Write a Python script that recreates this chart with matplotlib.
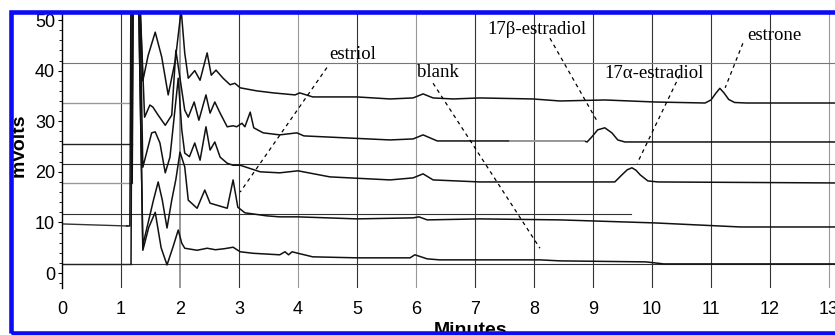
import matplotlib
matplotlib.use('Agg')
import matplotlib.pyplot as plt
from matplotlib.patches import Rectangle
import numpy as np

# chromatogram traces (minutes, mV), top to bottom
t1 = [0, 1.19, 1.2, 1.3, 1.37, 1.46, 1.58, 1.69, 1.8, 1.92, 2.02, 2.08, 2.14, 2.25, 2.34, 2.46, 2.53, 2.61,
      2.73, 2.85, 2.93, 3.02, 3.3, 3.58, 3.95, 4.03, 4.25, 5.0, 5.56, 5.95, 6.12, 6.29, 6.63, 7.08, 7.98,
      8.44, 9.2, 10.05, 10.9, 11.0, 11.08, 11.15, 11.22, 11.3, 11.4, 11.6, 13.1]
v1 = [33.6, 33.6, 60, 60, 38.0, 43.0, 47.6, 42.7, 35.2, 42.0, 52.0, 43.5, 38.5, 40.0, 38.1, 43.5, 39.1, 40.1,
      38.5, 37.2, 37.5, 36.6, 36.0, 35.6, 35.2, 35.6, 34.8, 34.8, 34.4, 34.6, 35.4, 34.6, 34.4, 34.6, 34.4,
      34.0, 34.2, 33.8, 33.6, 34.2, 35.5, 36.5, 35.6, 34.3, 33.7, 33.6, 33.6]

t2 = [0, 1.19, 1.2, 1.3, 1.4, 1.49, 1.54, 1.63, 1.75, 1.86, 1.93, 2.08, 2.14, 2.24, 2.32, 2.44, 2.51, 2.59,
      2.68, 2.8, 2.9, 2.96, 3.05, 3.1, 3.19, 3.25, 3.41, 3.69, 3.98, 4.1, 4.83, 5.56, 5.95, 6.12, 6.36, 7.59,
      8.85, 8.9, 8.98, 9.08, 9.2, 9.32, 9.42, 9.54, 11.75, 13.1]
v2 = [25.5, 25.5, 60, 60, 30.8, 33.2, 32.8, 31.2, 29.2, 31.2, 44.0, 32.2, 30.8, 33.8, 30.2, 35.2, 31.6, 33.8,
      31.6, 28.9, 29.1, 28.9, 29.6, 28.9, 31.8, 28.7, 27.7, 27.3, 27.7, 27.1, 26.7, 26.3, 26.5, 27.3, 26.1, 26.1,
      26.1, 25.9, 26.9, 28.3, 28.7, 27.7, 26.3, 25.9, 25.9, 25.9]

t3 = [0, 1.19, 1.21, 1.31, 1.37, 1.52, 1.58, 1.66, 1.75, 1.83, 1.97, 2.03, 2.08, 2.16, 2.25, 2.34, 2.44, 2.51,
      2.59, 2.68, 2.8, 2.9, 3.02, 3.36, 3.69, 4.0, 4.54, 5.56, 5.95, 6.12, 6.29, 7.08, 8.44, 9.03, 9.37, 9.49,
      9.58, 9.66, 9.73, 9.8, 9.93, 10.1, 13.1]
v3 = [17.8, 17.8, 60, 60, 20.9, 27.7, 27.9, 25.7, 19.8, 22.9, 38.5, 28.3, 23.7, 23.0, 25.7, 22.3, 28.9, 24.3,
      25.9, 22.9, 21.7, 21.3, 21.3, 20.0, 19.8, 20.2, 19.0, 18.4, 18.8, 19.6, 18.4, 18.0, 18.0, 18.0, 18.0, 19.4,
      20.4, 20.8, 20.3, 19.4, 18.2, 18.0, 17.8]

t4 = [0, 1.1, 1.15, 1.17, 1.29, 1.37, 1.55, 1.63, 1.7, 1.78, 1.86, 1.93, 2.0, 2.08, 2.14, 2.29, 2.42, 2.51,
      2.8, 2.9, 2.98, 3.1, 3.47, 3.69, 4.0, 5.0, 5.95, 6.05, 6.19, 7.08, 8.44, 10.05, 11.5, 13.1]
v4 = [9.7, 9.3, 9.3, 60, 60, 5.5, 14.4, 18.0, 14.4, 8.9, 14.4, 18.5, 23.9, 21.0, 14.4, 12.8, 16.4, 13.8,
      12.8, 18.4, 13.0, 11.9, 11.3, 11.1, 11.1, 10.7, 10.9, 11.1, 10.5, 10.7, 10.5, 9.9, 9.1, 9.1]

t5 = [0, 1.17, 1.19, 1.29, 1.37, 1.47, 1.58, 1.68, 1.78, 1.88, 1.97, 2.03, 2.08, 2.29, 2.46, 2.6, 2.75, 2.9,
      3.02, 3.24, 3.69, 3.78, 3.84, 3.9, 4.0, 4.25, 5.0, 5.9, 5.98, 6.19, 6.4, 8.1, 8.44, 9.9, 10.2, 13.1]
v5 = [1.8, 1.8, 60, 60, 4.5, 9.0, 12.0, 5.0, 1.6, 5.1, 8.5, 5.9, 4.9, 4.5, 4.9, 4.6, 4.8, 5.1,
      4.2, 3.9, 3.6, 4.2, 3.6, 4.2, 3.9, 3.2, 3.0, 3.0, 3.6, 2.8, 2.6, 2.6, 2.4, 2.2, 1.8, 1.8]

traces = [(t1, v1), (t2, v2), (t3, v3), (t4, v4), (t5, v5)]
lead_colors = ['#999999', '#222222', '#999999', '#333333', '#222222']

# peak labels and their dashed leader lines
labels = ['estriol', 'blank', '17β-estradiol', '17α-estradiol', 'estrone']
label_x = [4.92, 6.37, 8.05, 10.03, 12.08]
label_y = [43.1, 39.7, 48.2, 39.5, 47.0]
lead_x = [(4.49, 3.02), (6.29, 8.1), (8.27, 9.08), (10.47, 9.75), (11.54, 11.24)]
lead_y = [(40.6, 16.0), (37.5, 4.9), (46.4, 29.8), (39.1, 21.7), (45.4, 36.6)]

# horizontal grid levels (mV) and how far they run (minutes)
hgrid_y = [41.5, 21.5, 11.66, 1.78]
hgrid_end = [13.1, 13.1, 9.65, 13.1]
hgrid_col = ['#777777', '#333333', '#333333', '#333333']

xticks = list(range(0, 14))
yticks = [0, 10, 20, 30, 40, 50]

W, H = 835, 335
fig = plt.figure(figsize=(W / 100, H / 100), dpi=100)
ax = fig.add_axes([62 / W, 1 - 288 / H, (W - 62) / W, (288 - 14) / H])
ax.set_xlim(0, (W - 62) / 59)
ax.set_ylim(-2.96, 51.19)

for x in xticks[1:]:
    c = '#999999' if x in (2, 4, 6, 13) else '#333333'
    lw = 1.4 if x == 2 else 0.8
    ax.axvline(x, color=c, lw=lw, zorder=1)

for y, e, c in zip(hgrid_y, hgrid_end, hgrid_col):
    ax.plot([0, e], [y, y], color=c, lw=0.8, zorder=1)

for (t, v), lc in zip(traces, lead_colors):
    t = np.array(t)
    v = np.array(v)
    ax.plot(t[:2], v[:2], color=lc, lw=1.0, zorder=2)
    ax.plot(t[1:], v[1:], color='#111111', lw=1.1, zorder=3)

# light grey stretch on the 17beta trace
t2a = np.array(t2)
v2a = np.array(v2)
m = (t2a >= 7.59) & (t2a <= 8.85)
ax.plot(t2a[m], v2a[m], color='#aaaaaa', lw=1.2, zorder=4)

for lab, lx, ly, sx, sy in zip(labels, label_x, label_y, lead_x, lead_y):
    ax.text(lx, ly, lab, ha='center', va='center', fontsize=13.5,
            family=['Liberation Serif', 'DejaVu Serif'], zorder=5)
    ax.plot(sx, sy, color='black', lw=0.9, ls=(0, (3, 3)), zorder=5)

ax.set_xticks(xticks)
ax.set_yticks(yticks)
ax.set_yticks(np.arange(-2, 51, 2), minor=True)
ax.tick_params(axis='x', length=0, pad=9, labelsize=13)
ax.tick_params(axis='y', which='major', length=3, pad=2, labelsize=13)
ax.tick_params(axis='y', which='minor', length=2)
for lab in ax.get_xticklabels() + ax.get_yticklabels():
    lab.set_family('Liberation Sans')
for s in ['top', 'right', 'bottom']:
    ax.spines[s].set_visible(False)
ax.spines['left'].set_linewidth(1.0)

fig.text(19 / W, 1 - 145 / H, 'mVolts', rotation=90, ha='center', va='center',
         fontsize=14, fontweight='bold', family='Liberation Sans')
fig.text(471 / W, 1 - 322 / H, 'Minutes', ha='center', va='top',
         fontsize=14, fontweight='bold', family='Liberation Sans')

# blue frame around the figure
frame = Rectangle((10.5 / W, 2 / H), 1.5, (333 - 11.5) / H, transform=fig.transFigure,
                  fill=False, edgecolor='#0b0bf5', lw=3.3, zorder=10)
fig.add_artist(frame)

fig.savefig('out.png', dpi=100)
